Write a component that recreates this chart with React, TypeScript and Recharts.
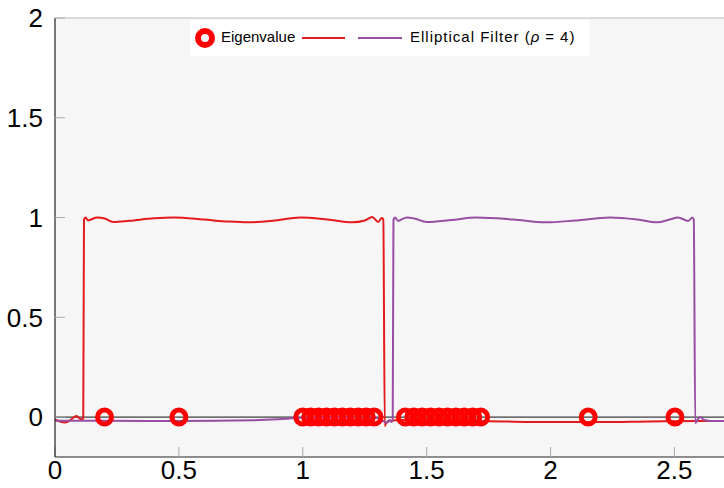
import React from 'react';
import {
  ComposedChart,
  Line,
  Scatter,
  XAxis,
  YAxis,
  CartesianGrid,
  ReferenceLine,
} from 'recharts';

const xTicks = [0, 0.5, 1, 1.5, 2, 2.5];
const yTicks = [0, 0.5, 1, 1.5, 2];

const eigenX = [
  0.2, 0.5,
  1.0, 1.032, 1.064, 1.096, 1.128, 1.16, 1.192, 1.224, 1.256, 1.288,
  1.414, 1.448, 1.482, 1.516, 1.55, 1.584, 1.618, 1.652, 1.686, 1.718,
  2.152, 2.502,
];
const eigenY = eigenX.map(() => 0);

const redX = [
  0, 0.02, 0.04, 0.06, 0.075, 0.088, 0.1, 0.108, 0.114,
  0.117, 0.123, 0.134, 0.145, 0.17, 0.2, 0.235, 0.3, 0.4, 0.48, 0.6, 0.7, 0.78, 0.88, 0.99, 1.1, 1.2, 1.25, 1.28, 1.304, 1.319, 1.325,
  1.331, 1.336, 1.35, 1.4, 1.6, 1.8, 2.0, 2.2, 2.4, 2.6, 2.7,
];
const redY = [
  -0.012, -0.022, -0.027, -0.018, -0.002, 0.006, -0.008, -0.012, -0.006,
  0.99, 1.0, 0.985, 0.99, 1.0, 0.995, 0.978, 0.984, 0.996, 1.0, 0.99, 0.98, 0.976, 0.984, 1.0, 0.99, 0.976, 0.985, 1.003, 0.978, 0.998, 0.99,
  -0.045, -0.03, -0.02, -0.015, -0.018, -0.022, -0.025, -0.025, -0.022, -0.02, -0.02,
];

const purpleX = [
  0, 0.2, 0.5, 0.8, 0.9, 0.97, 1.0, 1.1, 1.2, 1.3, 1.34, 1.35, 1.358, 1.363,
  1.366, 1.372, 1.385, 1.395, 1.42, 1.45, 1.5, 1.6, 1.7, 1.85, 1.98, 2.1, 2.24, 2.35, 2.43, 2.48, 2.515, 2.556, 2.572, 2.578,
  2.584, 2.59, 2.604, 2.62, 2.65, 2.7,
];
const purpleY = [
  -0.018, -0.018, -0.02, -0.016, -0.011, -0.005, -0.003, 0, 0, -0.005, -0.028, -0.015, -0.025, -0.01,
  0.99, 1.0, 0.983, 0.988, 1.0, 0.995, 0.978, 0.988, 1.0, 0.99, 0.976, 0.985, 1.0, 0.99, 0.976, 0.99, 1.0, 0.983, 1.0, 0.99,
  -0.03, -0.02, 0.0, -0.015, -0.02, -0.02,
];

const eigenData = eigenX.map((x, i) => ({ x, y: eigenY[i] }));
const redData = redX.map((x, i) => ({ x, y: redY[i] }));
const purpleData = purpleX.map((x, i) => ({ x, y: purpleY[i] }));

const RED = '#e41a1c';
const PURPLE = '#984ea3';
const MARK = '#ff0000';
const FONT = '"Liberation Sans", Arial, sans-serif';

const Ring = (props: any) => {
  const { cx, cy } = props;
  if (cx == null || cy == null) return null;
  return <circle cx={cx} cy={cy} r={7} fill="none" stroke={MARK} strokeWidth={5} />;
};

export default function App() {
  return (
    <div style={{ position: 'absolute', left: 0, top: 0, width: 724, height: 488 }}>
      <ComposedChart
        width={724}
        height={488}
        margin={{ top: 18, right: 0, bottom: 0, left: 0 }}
      >
        <CartesianGrid horizontal={false} vertical={false} fill="#f6f6f6" />
        <XAxis
          type="number"
          dataKey="x"
          domain={[0, 2.7]}
          allowDataOverflow
          ticks={xTicks}
          height={31}
          tickSize={-10}
          tickMargin={14}
          axisLine={{ stroke: '#222', strokeWidth: 1.2 }}
          tickLine={{ stroke: '#aaa', strokeWidth: 1 }}
          tick={{ fill: '#000', fontSize: 26, fontFamily: FONT }}
        />
        <YAxis
          type="number"
          dataKey="y"
          domain={[-0.2, 2]}
          allowDataOverflow
          ticks={yTicks}
          width={55}
          tickSize={-10}
          tickMargin={22}
          axisLine={{ stroke: '#222', strokeWidth: 1.2 }}
          tickLine={{ stroke: '#aaa', strokeWidth: 1 }}
          tick={{ fill: '#000', fontSize: 26, fontFamily: FONT }}
        />
        <ReferenceLine y={2} stroke="#bbb" strokeWidth={1} />
        <ReferenceLine y={0} stroke="#111" strokeWidth={1} />
        <Line
          data={redData}
          dataKey="y"
          type="monotone"
          stroke={RED}
          strokeWidth={2}
          dot={false}
          activeDot={false}
          isAnimationActive={false}
        />
        <Line
          data={purpleData}
          dataKey="y"
          type="monotone"
          stroke={PURPLE}
          strokeWidth={2}
          dot={false}
          activeDot={false}
          isAnimationActive={false}
        />
        <Scatter
          data={eigenData}
          dataKey="y"
          shape={Ring}
          isAnimationActive={false}
        />
      </ComposedChart>
      <div
        style={{
          position: 'absolute',
          left: 190,
          top: 20,
          width: 399,
          height: 36,
          background: '#fff',
          fontFamily: FONT,
          fontSize: 15,
          color: '#000',
        }}
      >
        <svg width={399} height={36} style={{ position: 'absolute', left: 0, top: 0 }}>
          <circle cx={15} cy={18} r={7} fill="none" stroke={MARK} strokeWidth={6} />
          <line x1={112} x2={155} y1={18} y2={18} stroke={RED} strokeWidth={2} />
          <line x1={168} x2={212} y1={18} y2={18} stroke={PURPLE} strokeWidth={2} />
        </svg>
        <span style={{ position: 'absolute', left: 31, top: 8, lineHeight: '18px', whiteSpace: 'nowrap' }}>
          Eigenvalue
        </span>
        <span style={{ position: 'absolute', left: 220, top: 8, lineHeight: '18px', whiteSpace: 'nowrap', letterSpacing: 1 }}>
          Elliptical Filter (<i>ρ</i>
          <span style={{ margin: '0 5px' }}>=</span>4)
        </span>
      </div>
    </div>
  );
}
